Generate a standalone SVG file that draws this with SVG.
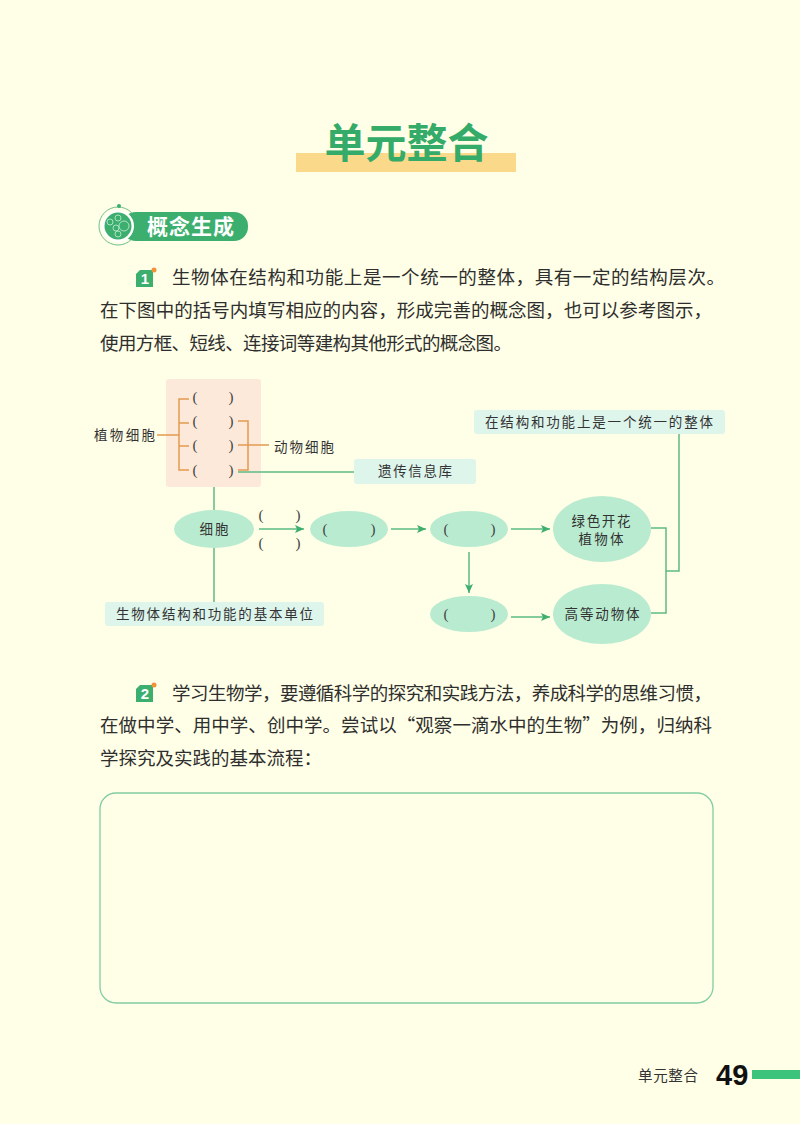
<svg xmlns="http://www.w3.org/2000/svg" width="800" height="1124" viewBox="0 0 800 1124">
<style>
text{font-family:"Noto Sans CJK SC","Liberation Sans",sans-serif;fill:#333}
.body{font-size:18.5px;fill:#2e2e2e}
.lab{font-size:13.5px;fill:#333}
.mid{text-anchor:middle}
.par{font-family:"Liberation Serif","Noto Sans CJK SC",serif;font-size:15px;text-anchor:middle;fill:#444}
.gl{fill:none;stroke:#5dbb85;stroke-width:1.5}
.ol{fill:none;stroke:#e39a52;stroke-width:1.5}
.ar{fill:none;stroke:#5dbb85;stroke-width:1.5;marker-end:url(#ah)}
.el{fill:#b9ebd0}
.bx{fill:#def5ec}
.ic{fill:#3cae6e}
.dot{fill:#f0923a}
.num{font-family:"Liberation Sans",sans-serif;font-weight:700;font-size:15px;fill:#fff;text-anchor:middle}
</style>
<defs>
<marker id="ah" markerUnits="userSpaceOnUse" markerWidth="10" markerHeight="8" refX="9" refY="4" orient="auto"><path d="M0 0L9 4L0 8L2 4Z" fill="#3cae6e"/></marker>
</defs>
<rect width="800" height="1124" fill="#fffee6"/>
<g id="title">
<rect x="296" y="153" width="220" height="19" fill="#fbd98a"/>
<text x="406.500" y="158" class="mid" font-size="41" font-weight="700" style="fill:#35ab69">单元整合</text>
</g>
<g id="section-badge">
<circle cx="118" cy="226" r="19" fill="#fffee6" stroke="#6cc08f" stroke-width="1"/>
<circle cx="119" cy="206" r="2" fill="#3cae6e"/>
<rect x="122" y="212" width="126" height="29" rx="14" fill="#3cae6e"/>
<circle cx="118" cy="226" r="16" fill="#fff"/>
<circle cx="118" cy="226" r="13.500" fill="#3cae6e"/>
<g fill="none" stroke="#c9eed8" stroke-width="0.800"><circle cx="124" cy="226" r="5"/><circle cx="116" cy="228" r="3"/><circle cx="118" cy="218" r="3"/><circle cx="118" cy="234" r="3"/><circle cx="110" cy="222" r="3"/></g>
<text x="147" y="234" font-size="21" font-weight="700" style="fill:#fff" textLength="87">概念生成</text>
</g>
<g id="q1">
<path class="ic" d="M140 270H153V287H136V274Z"/><circle class="dot" cx="154" cy="270" r="2.500"/><text class="num" x="145" y="284">1</text>
<text class="body" x="172" y="284" textLength="553">生物体在结构和功能上是一个统一的整体，具有一定的结构层次。</text>
<text class="body" x="100" y="317" textLength="612">在下图中的括号内填写相应的内容，形成完善的概念图，也可以参考图示，</text>
<text class="body" x="100" y="350" textLength="412">使用方框、短线、连接词等建构其他形式的概念图。</text>
</g>
<g id="cell-parts">
<rect x="166" y="379" width="95" height="108" rx="3" fill="#fde9da"/>
<text class="par" x="195" y="402">(</text><text class="par" x="231" y="402">)</text>
<text class="par" x="195" y="426">(</text><text class="par" x="231" y="426">)</text>
<text class="par" x="195" y="450">(</text><text class="par" x="231" y="450">)</text>
<text class="par" x="195" y="475">(</text><text class="par" x="231" y="475">)</text>
</g>
<g id="connectors">
<path class="ol" d="M189 399H179V470H189M179 423H189M179 446H189M157 435H179"/>
<path class="ol" d="M238 421H248V470H238M238 445H269"/>
<path class="gl" d="M238 472H354M214 487V510M214 548V602"/>
<path class="ar" d="M259 529H304"/>
<path class="ar" d="M391 529H426"/>
<path class="ar" d="M511 529H550"/>
<path class="ar" d="M469 552V593"/>
<path class="ar" d="M511 617H550"/>
<path class="gl" d="M651 528H666V613H651M666 571H679V434"/>
</g>
<g id="label-plant"><text class="lab" x="94" y="440" textLength="61">植物细胞</text></g>
<g id="label-animal"><text class="lab" x="274" y="452" textLength="60">动物细胞</text></g>
<g id="box-dna"><rect class="bx" x="354" y="459" width="122" height="25" rx="3"/><text class="lab mid" x="415" y="476" textLength="74">遗传信息库</text></g>
<g id="box-whole"><rect class="bx" x="474" y="410" width="251" height="24" rx="3"/><text class="lab" x="485" y="427" textLength="228">在结构和功能上是一个统一的整体</text></g>
<g id="box-unit"><rect class="bx" x="105" y="602" width="219" height="24" rx="3"/><text class="lab" x="116" y="619" textLength="197">生物体结构和功能的基本单位</text></g>
<g id="node-cell"><ellipse class="el" cx="214" cy="529" rx="40" ry="19"/><text class="lab mid" x="214" y="534" textLength="29">细胞</text></g>
<g id="blank-arrow"><text class="par" x="261" y="520">(</text><text class="par" x="298" y="520">)</text><text class="par" x="261" y="548">(</text><text class="par" x="298" y="548">)</text></g>
<g id="node-tissue"><ellipse class="el" cx="349" cy="529" rx="39" ry="18"/><text class="par" x="325" y="534">(</text><text class="par" x="373" y="534">)</text></g>
<g id="node-organ"><ellipse class="el" cx="469" cy="529" rx="39" ry="18"/><text class="par" x="446" y="534">(</text><text class="par" x="493" y="534">)</text></g>
<g id="node-system"><ellipse class="el" cx="469" cy="614" rx="39" ry="18"/><text class="par" x="446" y="619">(</text><text class="par" x="493" y="619">)</text></g>
<g id="node-plant"><ellipse class="el" cx="602" cy="529" rx="49" ry="33"/><text class="lab mid" x="601" y="526" textLength="59">绿色开花</text><text class="lab mid" x="601" y="544" textLength="45">植物体</text></g>
<g id="node-animal"><ellipse class="el" cx="602" cy="614" rx="49" ry="30"/><text class="lab mid" x="602" y="619" textLength="75">高等动物体</text></g>
<g id="q2">
<path class="ic" d="M140 685H153V702H136V689Z"/><circle class="dot" cx="154" cy="685" r="2.500"/><text class="num" x="145" y="699">2</text>
<text class="body" x="172" y="700" textLength="540">学习生物学，要遵循科学的探究和实践方法，养成科学的思维习惯，</text>
<text class="body" x="100" y="732" textLength="612">在做中学、用中学、创中学。尝试以“观察一滴水中的生物”为例，归纳科</text>
<text class="body" x="100" y="765" textLength="222">学探究及实践的基本流程：</text>
</g>
<g id="answer-box"><rect x="100" y="793" width="613" height="210" rx="16" fill="none" stroke="#82cda3" stroke-width="1.300"/></g>
<g id="footer">
<text x="638" y="1081" font-size="14.500" textLength="60">单元整合</text>
<text x="716" y="1085" font-size="29" font-weight="700" style="font-family:'Liberation Sans',sans-serif;fill:#111">49</text>
<rect x="752" y="1070" width="48" height="9" fill="#3cc47c"/>
</g>
</svg>
